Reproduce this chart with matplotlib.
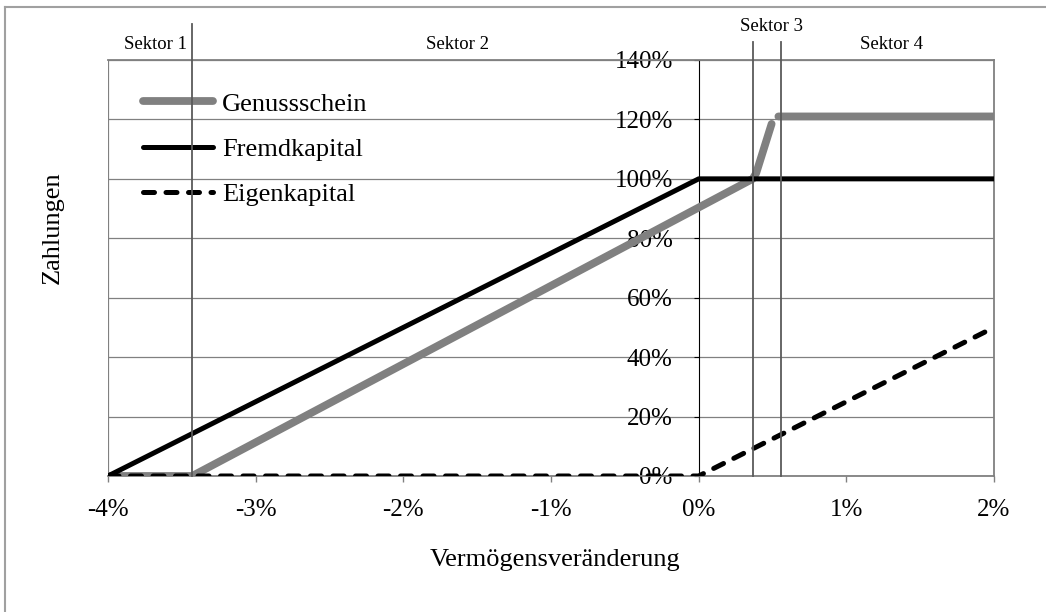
import matplotlib
matplotlib.use('Agg')
import matplotlib.pyplot as plt
import numpy as np
from matplotlib.lines import Line2D

plt.rcParams['font.family'] = ['Liberation Serif', 'DejaVu Serif']

# ---- data ----
x_ticks = [-4, -3, -2, -1, 0, 1, 2]
x_ticklabels = ['-4%', '-3%', '-2%', '-1%', '0%', '1%', '2%']
y_ticks = [0, 20, 40, 60, 80, 100, 120, 140]
y_ticklabels = ['0%', '20%', '40%', '60%', '80%', '100%', '120%', '140%']

genuss_x = [-4.0, -3.43, 0.366, 0.39, 0.494, np.nan, 0.54, 2.0]
genuss_y = [0.0, 0.0, 100.0, 102.0, 118.5, np.nan, 121.0, 121.0]
fremd_x = [-4.0, 0.0, 2.0]
fremd_y = [0.0, 100.0, 100.0]
eigen_x = [-4.0, 0.0, 2.0]
eigen_y = [0.0, 0.0, 50.0]

series_names = ['Genussschein', 'Fremdkapital', 'Eigenkapital']

sector_bounds = [-3.43, 0.366, 0.555]
sector_line_tops = [152.0, 146.0, 146.0]
sector_labels = ['Sektor 1', 'Sektor 2', 'Sektor 3', 'Sektor 4']
sector_label_x = [-3.676, -1.632, 0.494, 1.307]
sector_label_y = [145.1, 145.1, 151.2, 145.1]

# ---- figure ----
W, H = 1046, 612
fig = plt.figure(figsize=(W / 100, H / 100), dpi=100)
ax = fig.add_axes([108 / W, 136 / H, 886 / W, 416 / H])
ax.set_xlim(-4, 2)
ax.set_ylim(0, 140)

gray = '#808080'
ax.yaxis.grid(True, color=gray, lw=0.9, zorder=0)
ax.set_axisbelow(True)

for s in ['top', 'right', 'bottom']:
    ax.spines[s].set_color(gray)
    ax.spines[s].set_linewidth(1.3)
ax.spines['left'].set_position(('data', 0))
ax.spines['left'].set_color('black')
ax.spines['left'].set_linewidth(0.8)
ax.axvline(-4, color=gray, lw=1.6, zorder=1)

ax.set_xticks(x_ticks)
ax.set_xticklabels(x_ticklabels)
ax.set_yticks(y_ticks)
ax.set_yticklabels(y_ticklabels)
ax.tick_params(axis='y', direction='out', length=3.6, width=0.8, color='black',
               pad=15, labelsize=18)
ax.tick_params(axis='x', direction='out', length=4.3, width=1.0, color=gray,
               pad=12, labelsize=18)

l1, = ax.plot(genuss_x, genuss_y, color=gray, lw=5.6, solid_capstyle='round',
              solid_joinstyle='round', label=series_names[0], zorder=3)
l2, = ax.plot(fremd_x, fremd_y, color='black', lw=3.6, solid_capstyle='round',
              label=series_names[1], zorder=4)
l3, = ax.plot(eigen_x, eigen_y, color='black', lw=3.6, dashes=(2.2, 2.3),
              dash_capstyle='round', label=series_names[2], zorder=5)

# sector boundaries
for xb, yt in zip(sector_bounds, sector_line_tops):
    ax.plot([xb, xb], [0, yt], color='#5a5a5a', lw=1.3, clip_on=False, zorder=6)
for lab, lx, ly in zip(sector_labels, sector_label_x, sector_label_y):
    ax.text(lx, ly, lab, ha='center', va='center', fontsize=13.5, clip_on=False)

leg = ax.legend(handles=[l1, l2, l3], loc='upper left',
                bbox_to_anchor=(0.0395, 0.923), frameon=False, fontsize=19,
                handlelength=2.65, handletextpad=0.35, labelspacing=0.83,
                borderaxespad=0, borderpad=0)

fig.text(555 / W, 1 - 560 / H, 'Vermögensveränderung', ha='center', va='center',
         fontsize=19)
fig.text(53 / W, 1 - 228 / H, 'Zahlungen', ha='center', va='center',
         fontsize=19, rotation=90)

# outer border (left and top visible)
fig.add_artist(Line2D([5 / W, 5 / W], [0, 1 - 7 / H], transform=fig.transFigure,
                      color='#a0a0a0', lw=1.5))
fig.add_artist(Line2D([5 / W, 1], [1 - 7 / H, 1 - 7 / H], transform=fig.transFigure,
                      color='#a0a0a0', lw=1.5))

fig.savefig('out.png', dpi=100)
